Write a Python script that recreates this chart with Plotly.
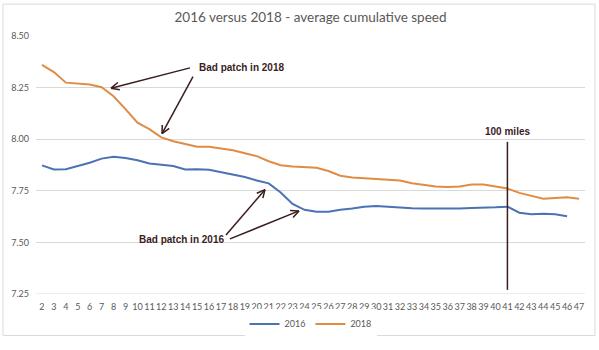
import math
import plotly.graph_objects as go

days = list(range(2, 48))
speed_2016 = [7.873, 7.853, 7.855, 7.870, 7.886, 7.906, 7.915, 7.909, 7.898, 7.882,
              7.876, 7.870, 7.853, 7.855, 7.852, 7.840, 7.831, 7.817, 7.800, 7.786,
              7.742, 7.686, 7.658, 7.648, 7.648, 7.658, 7.664, 7.673, 7.676, 7.672,
              7.667, 7.666, 7.664, 7.664, 7.661, 7.664, 7.667, 7.667, 7.670, 7.673,
              7.644, 7.636, 7.639, 7.636, 7.627, None]
speed_2018 = [8.360, 8.325, 8.274, 8.271, 8.265, 8.252, 8.208, 8.146, 8.080, 8.049,
              8.009, 7.990, 7.975, 7.963, 7.963, 7.956, 7.946, 7.932, 7.918, 7.893,
              7.874, 7.868, 7.864, 7.862, 7.846, 7.823, 7.815, 7.812, 7.807, 7.806,
              7.800, 7.787, 7.779, 7.771, 7.768, 7.771, 7.780, 7.780, 7.771, 7.761,
              7.740, 7.725, 7.712, 7.715, 7.719, 7.712]
y_ticks = [7.25, 7.50, 7.75, 8.00, 8.25, 8.50]
milestone_day = 41
milestone_label = "100 miles"
title = "2016 versus 2018 - average cumulative speed"

W, H = 599, 350
ML, MR, MT, MB = 36, 14, 36, 47
PW, PH = W - ML - MR, H - MT - MB

def paper(px, py):
    return (px - ML) / PW, (H - MB - py) / PH

dark = "#3a1d1d"
grid = "#d9d9d9"

fig = go.Figure()
fig.add_trace(go.Scatter(x=days, y=speed_2016, name="2016", mode="lines",
                         line=dict(color="#4a72b4", width=2)))
fig.add_trace(go.Scatter(x=days, y=speed_2018, name="2018", mode="lines",
                         line=dict(color="#e08c45", width=2)))

shapes = []
# outer border
x0, y0 = paper(3, 3)
x1, y1 = paper(595, 346)
shapes.append(dict(type="rect", xref="paper", yref="paper", x0=x0, y0=y1, x1=x1, y1=y0,
                   line=dict(color=grid, width=1), layer="below"))
# bottom gridline
shapes.append(dict(type="line", xref="paper", yref="y", x0=0, x1=1, y0=7.25, y1=7.25,
                   line=dict(color=grid, width=1), layer="below"))
# milestone line
shapes.append(dict(type="line", xref="x", yref="y", x0=milestone_day, x1=milestone_day,
                   y0=7.27, y1=7.987, line=dict(color=dark, width=1.5)))

# arrows (pixel tail -> head)
arrows = [((190, 69), (111, 90)), ((193, 78), (162, 137)),
          ((226, 242), (265, 195)), ((230, 246), (299, 217))]
for (tx, ty), (hx, hy) in arrows:
    ax_, ay_ = paper(tx, ty)
    bx_, by_ = paper(hx, hy)
    shapes.append(dict(type="line", xref="paper", yref="paper", x0=ax_, y0=ay_, x1=bx_, y1=by_,
                       line=dict(color=dark, width=1.5)))
    ang = math.atan2(ty - hy, tx - hx)
    for d in (0.45, -0.45):
        px = hx + 9 * math.cos(ang + d)
        py = hy + 9 * math.sin(ang + d)
        cx, cy = paper(px, py)
        shapes.append(dict(type="line", xref="paper", yref="paper", x0=bx_, y0=by_, x1=cx, y1=cy,
                           line=dict(color=dark, width=1.5)))

annotations = []
afont = dict(family="Liberation Sans", size=10, color=dark)
bx, by = paper(241, 69)
annotations.append(dict(xref="paper", yref="paper", x=bx, y=by, text="<b>Bad patch in 2018</b>",
                        xanchor="center", yanchor="middle", showarrow=False, font=afont))
bx, by = paper(181, 247)
annotations.append(dict(xref="paper", yref="paper", x=bx, y=by, text="<b>Bad patch in 2016</b>",
                        xanchor="center", yanchor="middle", showarrow=False, font=afont))
bx, by = paper(502, 135)
annotations.append(dict(xref="x", yref="paper", x=milestone_day, y=by, text="<b>" + milestone_label + "</b>",
                        xanchor="center", yanchor="middle", showarrow=False, font=afont))

fig.update_layout(
    width=W, height=H,
    margin=dict(l=ML, r=MR, t=MT, b=MB),
    paper_bgcolor="white", plot_bgcolor="white",
    title=dict(text=title, x=0.5, xref="paper", xanchor="center", y=1 - 17 / H, yanchor="middle",
               font=dict(family="Lato", size=13.5, color="#595959")),
    font=dict(family="Lato", size=9, color="#595959"),
    xaxis=dict(range=[1.5, 47.5], tickmode="array", tickvals=days, ticktext=[str(d) for d in days],
               tickangle=0, showgrid=False, zeroline=False, showline=False, ticks="",
               ticklabelstandoff=6, tickfont=dict(size=9, color="#595959")),
    yaxis=dict(range=[7.25, 8.5], tickmode="array", tickvals=y_ticks,
               ticktext=[f"{v:.2f}" for v in y_ticks],
               showgrid=True, gridcolor=grid, gridwidth=1, zeroline=False, showline=False,
               ticks="", ticklabelstandoff=6, tickfont=dict(size=9, color="#595959")),
    legend=dict(orientation="h", x=0.5, xanchor="center", y=(H - MB - 334) / PH, yanchor="middle",
                font=dict(size=9, color="#595959"), itemwidth=30),
    shapes=shapes, annotations=annotations,
)
fig.write_html("out.html")
